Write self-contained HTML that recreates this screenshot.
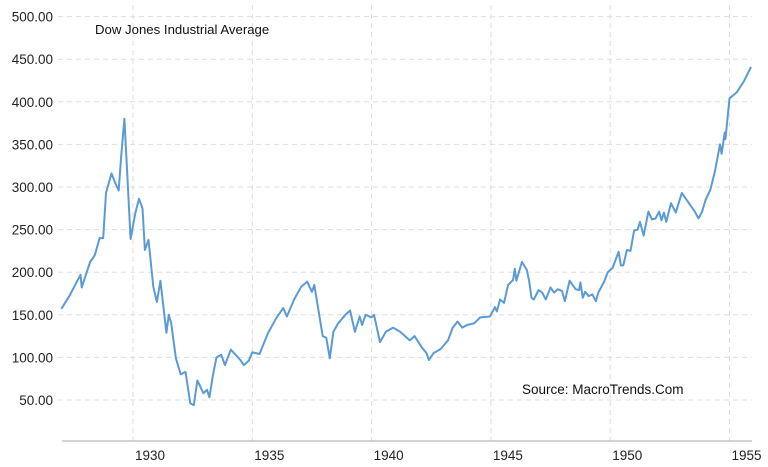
<!DOCTYPE html>
<html><head><meta charset="utf-8"><style>
html,body{margin:0;padding:0;background:#fff;width:768px;height:467px;overflow:hidden}
svg{display:block;font-family:"Liberation Sans",sans-serif}
</style></head><body>
<svg id="chart" width="768" height="467">
<g id="grid"></g>
<g id="yaxis"></g>
<g id="xaxis"></g>
<path id="line" fill="none" stroke="#5b9bd5" stroke-width="2" stroke-linejoin="round"></path>
<text x="95" y="34" font-size="13.2" fill="#111">Dow Jones Industrial Average</text>
<text x="522" y="394" font-size="13.5" fill="#111">Source: MacroTrends.Com</text>
</svg>
<script>
const years=[1927.0,1927.35,1927.8,1927.85,1928.2,1928.4,1928.6,1928.75,1928.87,1929.1,1929.25,1929.4,1929.5,1929.64,1929.9,1930.1,1930.25,1930.4,1930.5,1930.65,1930.85,1931.0,1931.15,1931.4,1931.5,1931.6,1931.8,1932.0,1932.2,1932.4,1932.55,1932.7,1932.95,1933.1,1933.2,1933.35,1933.5,1933.7,1933.85,1934.1,1934.5,1934.65,1934.85,1935.0,1935.3,1935.65,1936.0,1936.3,1936.45,1936.75,1937.05,1937.3,1937.5,1937.6,1937.95,1938.1,1938.25,1938.4,1938.6,1938.9,1939.1,1939.3,1939.5,1939.6,1939.75,1940.0,1940.1,1940.35,1940.6,1940.9,1941.2,1941.6,1941.8,1942.1,1942.3,1942.4,1942.6,1942.9,1943.2,1943.4,1943.6,1943.8,1944.0,1944.3,1944.55,1944.96,1945.17,1945.25,1945.38,1945.55,1945.72,1945.93,1946.0,1946.07,1946.3,1946.5,1946.6,1946.7,1946.8,1947.0,1947.15,1947.3,1947.5,1947.65,1947.8,1947.98,1948.1,1948.3,1948.55,1948.7,1948.75,1948.85,1948.95,1949.1,1949.25,1949.4,1949.5,1949.75,1949.9,1950.1,1950.35,1950.45,1950.55,1950.7,1950.85,1951.0,1951.15,1951.25,1951.4,1951.6,1951.75,1951.9,1952.05,1952.15,1952.25,1952.35,1952.55,1952.75,1953.0,1953.2,1953.45,1953.55,1953.7,1953.85,1954.0,1954.2,1954.4,1954.6,1954.67,1954.8,1954.83,1955.0,1955.3,1955.6,1955.9];
const values=[157,173,197,182,212,220,240,240,293,316,305,296,335,380,239,270,286,275,226,238,183,165,190,129,150,140,99,80,83,46,44,73,58,62,53,79,100,103,91,109,97,91,96,106,104,128,146,158,148,168,183,189,177,185,125,123,99,130,140,150,155,130,148,138,150,147,150,118,130,135,130,120,125,112,105,97,105,110,120,135,142,135,138,140,147,148,159,154,168,164,185,191,204,190,212,203,190,170,168,179,176,168,182,176,180,178,166,190,180,179,188,170,177,172,174,166,176,189,200,205,224,208,208,226,225,249,250,259,243,271,262,263,271,261,270,259,281,270,293,285,275,271,263,271,285,297,320,350,339,364,356,404,411,424,441];
const yTicks=[50,100,150,200,250,300,350,400,450,500];
const yTickLabels=["50.00","100.00","150.00","200.00","250.00","300.00","350.00","400.00","450.00","500.00"];
const xTicks=[1930,1935,1940,1945,1950,1955];
const xTickLabels=["1930","1935","1940","1945","1950","1955"];
const NS="http://www.w3.org/2000/svg";
const X=y=>133+(y-1930)*23.86;
const Y=v=>442.6-v*0.852;
const grid=document.getElementById('grid'),ya=document.getElementById('yaxis'),xa=document.getElementById('xaxis');
function mk(tag,attrs,parent){const e=document.createElementNS(NS,tag);for(const k in attrs)e.setAttribute(k,attrs[k]);parent.appendChild(e);return e;}
yTicks.forEach((v,i)=>{
  const l=mk('line',{x1:58,x2:752,y1:Y(v),y2:Y(v),stroke:'#ddd','stroke-dasharray':'5,4'},grid);
  
  
  const t=mk('text',{x:53,y:Y(v)+5,'text-anchor':'end','font-size':13.5,fill:'#222'},ya);
  t.textContent=yTickLabels[i];
  
  
});
xTicks.forEach((v,i)=>{
  const l=mk('line',{x1:X(v),x2:X(v),y1:5,y2:441,stroke:'#ddd','stroke-dasharray':'5,4'},grid);
  
  
  const t=mk('text',{x:X(v)+2,y:460,'font-size':13.5,fill:'#222'},xa);
  t.textContent=xTickLabels[i];
  
  
});
const ax=mk('line',{x1:62,x2:752,y1:441,y2:441,stroke:'#aaa','stroke-width':1},xa);


document.getElementById('line').setAttribute('d',years.map((y,i)=>(i?'L':'M')+X(y).toFixed(1)+','+Y(values[i]).toFixed(1)).join(''));
</script>
</body></html>
